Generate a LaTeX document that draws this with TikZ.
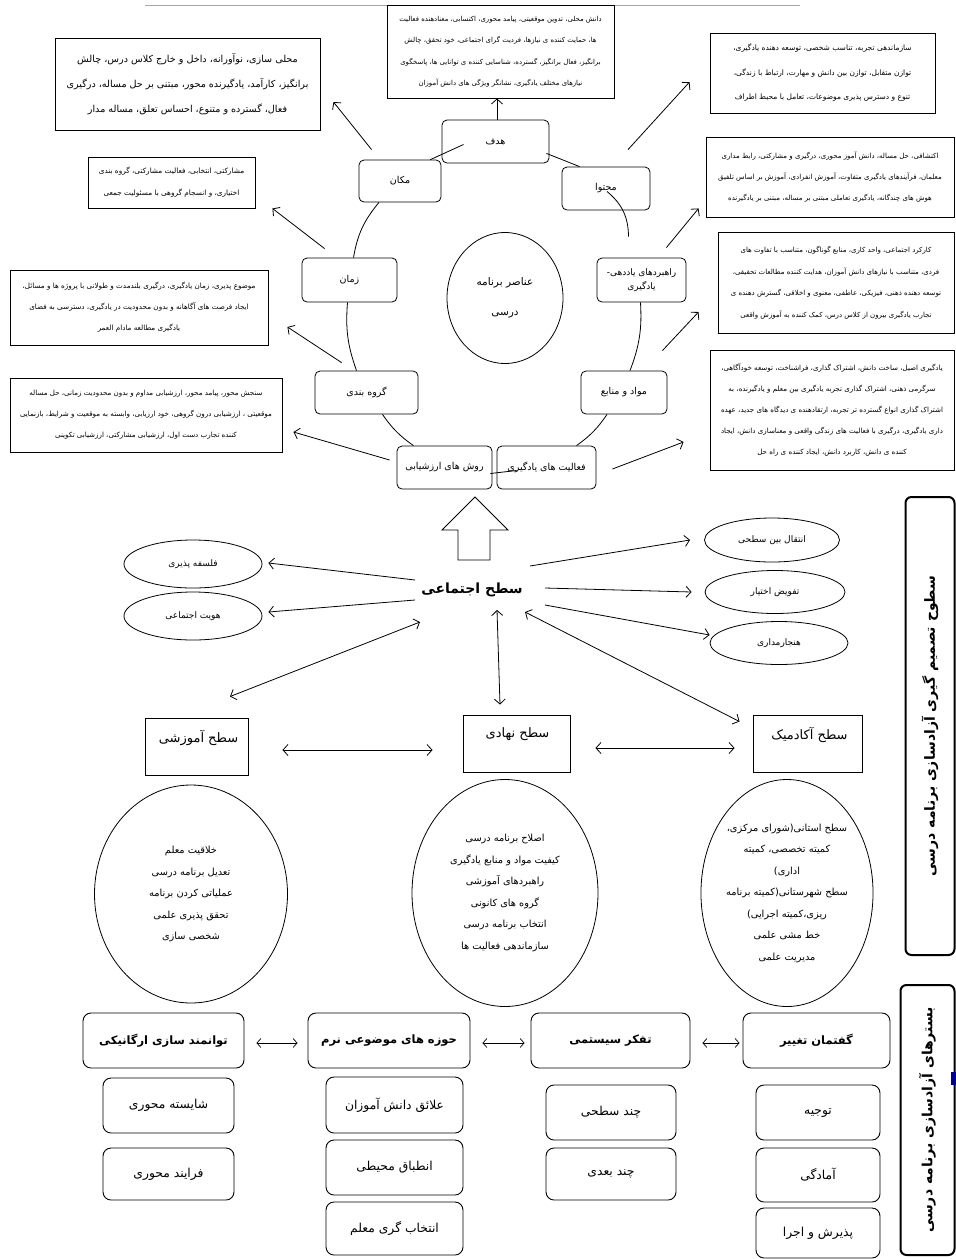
\documentclass[tikz,border=0pt]{standalone}
\usepackage{fontspec}
\newfontfamily\arabicfont[Script=Arabic]{DejaVu Sans}
\TeXXeTstate=1
\usetikzlibrary{arrows.meta,calc,shapes.geometric}
\newcommand\fa[1]{\beginR #1\endR}
\tikzset{
 desc/.style={draw, line width=0.9pt, align=center, inner sep=0pt},
 cbox/.style={draw, rounded corners=5pt, line width=0.8pt, align=center, inner sep=0pt, font=\arabicfont\fontsize{9.5}{12}\selectfont},
 arr/.style={line width=0.8pt, -{Straight Barb[length=5pt,width=11pt]}},
 darr/.style={line width=0.8pt, {Straight Barb[length=5pt,width=11pt]}-{Straight Barb[length=5pt,width=11pt]}},
 sdarr/.style={line width=0.7pt, {Straight Barb[length=4pt,width=9pt]}-{Straight Barb[length=4pt,width=9pt]}},
 link/.style={line width=0.8pt},
 oval/.style={draw, ellipse, line width=0.8pt, inner sep=0pt, font=\arabicfont\fontsize{9}{10}\selectfont},
 bigoval/.style={draw, ellipse, line width=0.8pt, inner sep=0pt, align=center, font=\arabicfont\fontsize{9.8}{21.5}\selectfont},
 lvl/.style={draw, line width=0.9pt, inner sep=0pt},
 lvltxt/.style={font=\arabicfont\fontsize{13}{16}\selectfont, inner sep=1pt},
 hdr/.style={draw, rounded corners=8pt, line width=0.9pt, inner sep=0pt, font=\arabicfont\bfseries\fontsize{11.5}{12}\selectfont},
 sub/.style={draw, rounded corners=8pt, line width=0.9pt, inner sep=0pt, font=\arabicfont\fontsize{12.3}{14}\selectfont},
 vlab/.style={draw, rounded corners=6pt, line width=2pt, inner sep=0pt, font=\arabicfont\bfseries\fontsize{14}{16}\selectfont},
}
\begin{document}
\begin{tikzpicture}[x=1pt,y=-1pt]
\useasboundingbox (0,0) rectangle (956,1259);
\fill[white] (0,0) rectangle (956,1259);
\draw[gray!70, line width=0.6pt] (145,5) -- (800,5);

% ---------- description boxes ----------
\node[desc, minimum width=265pt, minimum height=92pt, font=\arabicfont\fontsize{9.6}{25}\selectfont] (tl) at (187.5,84) {%
\fa{محلی سازی، نوآورانه، داخل و خارج کلاس درس، چالش}\\
\fa{برانگیز، کارآمد، یادگیرنده محور، مبتنی بر حل مساله، درگیری}\\
\fa{فعال، گسترده و متنوع، احساس تعلق، مساله مدار}};

\node[desc, fill=white, minimum width=227pt, minimum height=93pt, font=\arabicfont\fontsize{6.9}{21.5}\selectfont] (tc) at (500.5,51.5) {%
\fa{دانش محلی، تدوین موقعیتی، پیامد محوری، اکتسابی، معنادهنده فعالیت}\\
\fa{ها، حمایت کننده ی نیازها، فردیت گرای اجتماعی، خود تحقق، چالش}\\
\fa{برانگیز، فعال برانگیز، گسترده، شناسایی کننده ی توانایی ها، پاسخگوی}\\
\fa{نیازهای مختلف یادگیری، نشانگر ویژگی های دانش آموزان}};

\node[desc, minimum width=225pt, minimum height=80pt, font=\arabicfont\fontsize{7.5}{24.5}\selectfont] (tr) at (822.5,73) {%
\fa{سازماندهی تجربه، تناسب شخصی، توسعه دهنده یادگیری،}\\
\fa{توازن متقابل، توازن بین دانش و مهارت، ارتباط با زندگی،}\\
\fa{تنوع و دسترس پذیری موضوعات، تعامل با محیط اطراف}};

\node[desc, minimum width=167pt, minimum height=51pt, font=\arabicfont\fontsize{7.3}{22}\selectfont] (l2) at (171.5,182.5) {%
\fa{مشارکتی، انتخابی، فعالیت مشارکتی، گروه بندی}\\
\fa{اختیاری، و انسجام گروهی با مسئولیت جمعی}};

\node[desc, minimum width=258pt, minimum height=75pt, font=\arabicfont\fontsize{7.2}{21}\selectfont] (l3) at (139,307.5) {%
\fa{موضوع پذیری، زمان یادگیری، درگیری بلندمدت و طولانی با پروژه ها و مسائل،}\\
\fa{ایجاد فرصت های آگاهانه و بدون محدودیت در یادگیری، دسترسی به فضای}\\
\fa{یادگیری مطالعه مادام العمر}};

\node[desc, minimum width=272pt, minimum height=74pt, font=\arabicfont\fontsize{7.1}{21}\selectfont] (l4) at (146,415) {%
\fa{سنجش محور، پیامد محور، ارزشیابی مداوم و بدون محدودیت زمانی، حل مساله}\\
\fa{موقعیتی ، ارزشیابی درون گروهی، خود ارزیابی، وابسته به موقعیت و شرایط، بازنمایی}\\
\fa{کننده تجارب دست اول، ارزشیابی مشارکتی، ارزشیابی تکوینی}};

\node[desc, minimum width=248pt, minimum height=80pt, font=\arabicfont\fontsize{7}{21}\selectfont] (r2) at (830,177) {%
\fa{اکتشافی، حل مساله، دانش آموز محوری، درگیری و مشارکتی، رابط مداری}\\
\fa{معلمان، فرآیندهای یادگیری متفاوت، آموزش انفرادی، آموزش بر اساس تلفیق}\\
\fa{هوش های چندگانه، یادگیری تعاملی مبتنی بر مساله، مبتنی بر یادگیرنده}};

\node[desc, minimum width=236pt, minimum height=101pt, font=\arabicfont\fontsize{7}{21.5}\selectfont] (r3) at (836,282.5) {%
\fa{کارکرد اجتماعی، واحد کاری، منابع گوناگون، متناسب با تفاوت های}\\
\fa{فردی، متناسب با نیازهای دانش آموزان، هدایت کننده مطالعات تحقیقی،}\\
\fa{توسعه دهنده ذهنی، فیزیکی، عاطفی، معنوی و اخلاقی، گسترش دهنده ی}\\
\fa{تجارب یادگیری بیرون از کلاس درس، کمک کننده به آموزش واقعی}};

\node[desc, minimum width=244pt, minimum height=120pt, font=\arabicfont\fontsize{7.1}{21}\selectfont] (r4) at (832,410) {%
\fa{یادگیری اصیل، ساخت دانش، اشتراک گذاری، فراشناخت، توسعه خودآگاهی،}\\
\fa{سرگرمی ذهنی، اشتراک گذاری تجربه یادگیری بین معلم و یادگیرنده، به}\\
\fa{اشتراک گذاری انواع گسترده تر تجربه، ارتقادهنده ی دیدگاه های جدید، عهده}\\
\fa{داری یادگیری، درگیری با فعالیت های زندگی واقعی و معناسازی دانش، ایجاد}\\
\fa{کننده ی دانش، کاربرد دانش، ایجاد کننده ی راه حل}};

% ---------- curriculum element ring ----------
\node[cbox, minimum width=107pt, minimum height=43pt] (hadaf) at (495.5,141.5) {\fa{هدف}};
\node[cbox, minimum width=82pt, minimum height=42pt] (makan) at (400,181) {\fa{مکان}};
\node[cbox, minimum width=88pt, minimum height=43pt] (mohtava) at (606,188.5) {\fa{محتوا}};
\node[cbox, minimum width=95pt, minimum height=44pt] (zaman) at (349.5,280) {\fa{زمان}};
\node[cbox, minimum width=89pt, minimum height=44pt, font=\arabicfont\fontsize{9}{14}\selectfont] (rahbord) at (641.5,280) {\fa{راهبردهای یاددهی-}\\\fa{یادگیری}};
\node[draw, ellipse, line width=0.8pt, minimum width=116pt, minimum height=131pt, inner sep=0pt, align=center, font=\arabicfont\fontsize{10.5}{30}\selectfont] (core) at (505,298) {\fa{عناصر برنامه}\\\fa{درسی}};
\node[cbox, minimum width=103pt, minimum height=43pt] (gorooh) at (366.5,392.5) {\fa{گروه بندی}};
\node[cbox, minimum width=86pt, minimum height=43pt] (mavad) at (624,392.5) {\fa{مواد و منابع}};
\node[cbox, minimum width=95pt, minimum height=43pt] (ravesh) at (444.5,467.5) {\fa{روش های ارزشیابی}};
\node[cbox, minimum width=99pt, minimum height=43pt] (faaliat) at (546.5,467.5) {\fa{فعالیت های یادگیری}};

\draw[link] ($(makan.north east)+(-11,0)$) -- ($(hadaf.center)+(-32,3)$);
\draw[link] ($(mohtava.north west)+(18,0)$) -- ($(hadaf.south east)+(-3,-10)$);
\draw[link] ($(rahbord.north)+(-13,-21)$) to[bend right=25] ($(mohtava.center)+(1,3)$);
\draw[link] ($(makan.south)+(-21,0)$) to[bend right=15] ($(zaman.north)+(4,0)$);
\draw[link] ($(zaman.south)+(-2,0)$) to[bend right=12] ($(gorooh.north)+(-10,0)$);
\draw[link] ($(rahbord.south)+(-1,0)$) to[bend left=12] ($(mavad.north)+(6,0)$);
\draw[link] ($(gorooh.south)+(16,0)$) to[bend right=10] ($(ravesh.north)+(-31,0)$);
\draw[link] ($(mavad.south)+(-17,0)$) to[bend left=10] ($(faaliat.north)+(30,0)$);
\draw[link] ($(ravesh.east)+(-2,6)$) -- ($(faaliat.west)+(20,3)$);

\draw[arr] ($(makan.north west)+(13,-10)$) -- ($(tl.east)+(13,18)$);
\draw[arr] ($(hadaf.north)+(1.5,0)$) -- ($(hadaf.north |- tc.south)+(1.5,0)$);
\draw[arr] ($(mohtava.north)+(22,-17)$) -- ($(tr.west)+(-20,9)$);
\draw[arr] ($(zaman.north west)+(23,-9)$) -- ($(l2.south east)+(17,0)$);
\draw[arr] ($(rahbord.north east)+(-20,-10)$) -- ($(r2.south west)+(-7,-9)$);
\draw[arr] ($(gorooh.north west)+(27,-8)$) -- ($(l3.east)+(19,19.5)$);
\draw[arr] ($(mavad.north east)+(-5,-20)$) -- ($(r3.west)+(-19,29.5)$);
\draw[arr] ($(ravesh.west)+(-7,-7.5)$) -- ($(l4.east)+(11,17)$);
\draw[arr] ($(faaliat.east)+(16,1.5)$) -- ($(r4.west)+(-26,32)$);

% ---------- big hollow arrow ----------
\draw[line width=0.9pt] (458,560) -- (458,530) -- (442,530) -- (475,497) -- (508,530) -- (490,530) -- (490,560) -- cycle;

% ---------- decision levels ----------
\node[font=\arabicfont\bfseries\fontsize{14}{16}\selectfont, inner sep=1pt] (ejt) at (472,590) {\fa{سطح اجتماعی}};
\node[oval, minimum width=138pt, minimum height=48pt] (fal) at (193,564) {\fa{فلسفه پذیری}};
\node[oval, minimum width=138pt, minimum height=48pt] (hov) at (193,616) {\fa{هویت اجتماعی}};
\node[oval, minimum width=135pt, minimum height=44pt] (ent) at (772,540) {\fa{انتقال بین سطحی}};
\node[oval, minimum width=140pt, minimum height=43pt] (taf) at (775,592) {\fa{تفویض اختیار}};
\node[oval, minimum width=138pt, minimum height=43pt] (han) at (779,643) {\fa{هنجارمداری}};

\draw[arr] ($(ejt.center)+(-57,-10)$) -- ($(fal.east)+(6,-1)$);
\draw[arr] ($(ejt.center)+(-57,10)$) -- ($(hov.east)+(6,-4)$);
\draw[arr] ($(ejt.center)+(58,-24)$) -- ($(ent.west)+(-14,0)$);
\draw[arr] ($(ejt.center)+(73,-2)$) -- ($(taf.west)+(-13,0)$);
\draw[arr] ($(ejt.center)+(73,15)$) -- ($(han.west)+(0,-8)$);

\node[lvl, minimum width=103pt, minimum height=57pt] (amz) at (196.5,746.5) {};
\node[lvl, minimum width=107pt, minimum height=57pt] (nah) at (516.5,743.5) {};
\node[lvl, minimum width=109pt, minimum height=57pt] (acd) at (807.5,743.5) {};
\node[lvltxt] (amzt) at ($(amz.north)+(2,20)$) {\fa{سطح آموزشی}};
\node[lvltxt] (naht) at ($(nah.north)+(1,20)$) {\fa{سطح نهادی}};
\node[lvltxt] (acdt) at ($(acd.north)+(2,20)$) {\fa{سطح آکادمیک}};

\draw[darr] ($(ejt.center)+(-52,32)$) -- ($(amz.north)+(33.5,-21)$);
\draw[darr] ($(ejt.center)+(25,20)$) -- ($(nah.north)+(-16.5,-10)$);
\draw[darr] ($(ejt.center)+(53,22)$) -- ($(acd.north west)+(-13,7)$);
\draw[darr] ($(amz.east)+(34,3.5)$) -- ($(nah.west)+(-30,6.5)$);
\draw[darr] ($(nah.east)+(25,4.5)$) -- ($(acd.west)+(-18,4.5)$);

\node[bigoval, minimum width=193pt, minimum height=218pt] (ol) at (191,894) {%
\fa{خلاقیت معلم}\\\fa{تعدیل برنامه درسی}\\\fa{عملیاتی کردن برنامه}\\\fa{تحقق پذیری علمی}\\\fa{شخصی سازی}};
\node[bigoval, minimum width=186pt, minimum height=227pt] (om) at (505,893) {%
\fa{اصلاح برنامه درسی}\\\fa{کیفیت مواد و منابع یادگیری}\\\fa{راهبردهای آموزشی}\\\fa{گروه های کانونی}\\\fa{انتخاب برنامه درسی}\\\fa{سازماندهی فعالیت ها}};
\node[bigoval, minimum width=172pt, minimum height=227pt] (orr) at (787,893) {%
\fa{سطح استانی(شورای مرکزی،}\\\fa{کمیته تخصصی، کمیته}\\\fa{اداری)}\\\fa{سطح شهرستانی(کمیته برنامه}\\\fa{ریزی،کمیته اجرایی)}\\\fa{خط مشی علمی}\\\fa{مدیریت علمی}};

% ---------- foundations ----------
\node[hdr, minimum width=161pt, minimum height=55pt] (h1) at (163.5,1040.5) {\fa{توانمند سازی ارگانیکی}};
\node[hdr, minimum width=162pt, minimum height=55pt] (h2) at (389,1040.5) {\fa{حوزه های موضوعی نرم}};
\node[hdr, minimum width=159pt, minimum height=55pt] (h3) at (610.5,1040.5) {\fa{تفکر سیستمی}};
\node[hdr, minimum width=147pt, minimum height=55pt] (h4) at (816.5,1040.5) {\fa{گفتمان تغییر}};
\draw[sdarr] ($(h1.east)+(12,2.5)$) -- ($(h2.west)+(-10,2.5)$);
\draw[sdarr] ($(h2.east)+(12,2.5)$) -- ($(h3.west)+(-6,2.5)$);
\draw[sdarr] ($(h3.east)+(12,2.5)$) -- ($(h4.west)+(-3,2.5)$);

\node[sub, minimum width=131pt, minimum height=55pt] (s11) at (168.5,1105.5) {\fa{شایسته محوری}};
\node[sub, minimum width=131pt, minimum height=52pt] (s12) at (168.5,1174) {\fa{فرایند محوری}};
\node[sub, minimum width=137pt, minimum height=56pt] (s21) at (394.5,1105) {\fa{علائق دانش آموزان}};
\node[sub, minimum width=137pt, minimum height=55pt] (s22) at (394.5,1167.5) {\fa{انطباق محیطی}};
\node[sub, minimum width=137pt, minimum height=53pt] (s23) at (394.5,1228.5) {\fa{انتخاب گری معلم}};
\node[sub, minimum width=130pt, minimum height=55pt] (s31) at (611,1112.5) {\fa{چند سطحی}};
\node[sub, minimum width=130pt, minimum height=52pt] (s32) at (611,1174) {\fa{چند بعدی}};
\node[sub, minimum width=124pt, minimum height=55pt] (s41) at (818,1112.5) {\fa{توجیه}};
\node[sub, minimum width=124pt, minimum height=54pt] (s42) at (818,1175) {\fa{آمادگی}};
\node[sub, minimum width=124pt, minimum height=50pt] (s43) at (818,1233) {\fa{پذیرش و اجرا}};

% ---------- side labels ----------
\node[vlab, rotate=90, minimum width=458pt, minimum height=49pt] (v1) at (930,726) {\fa{سطوح تصمیم گیری آزادسازی برنامه درسی}};
\node[vlab, rotate=90, minimum width=270pt, minimum height=54pt] (v2) at (927.5,1120) {\fa{بسترهای آزادسازی برنامه درسی}};
\fill[blue!60!black] (951,1072) rectangle (956,1085);
\end{tikzpicture}
\end{document}
